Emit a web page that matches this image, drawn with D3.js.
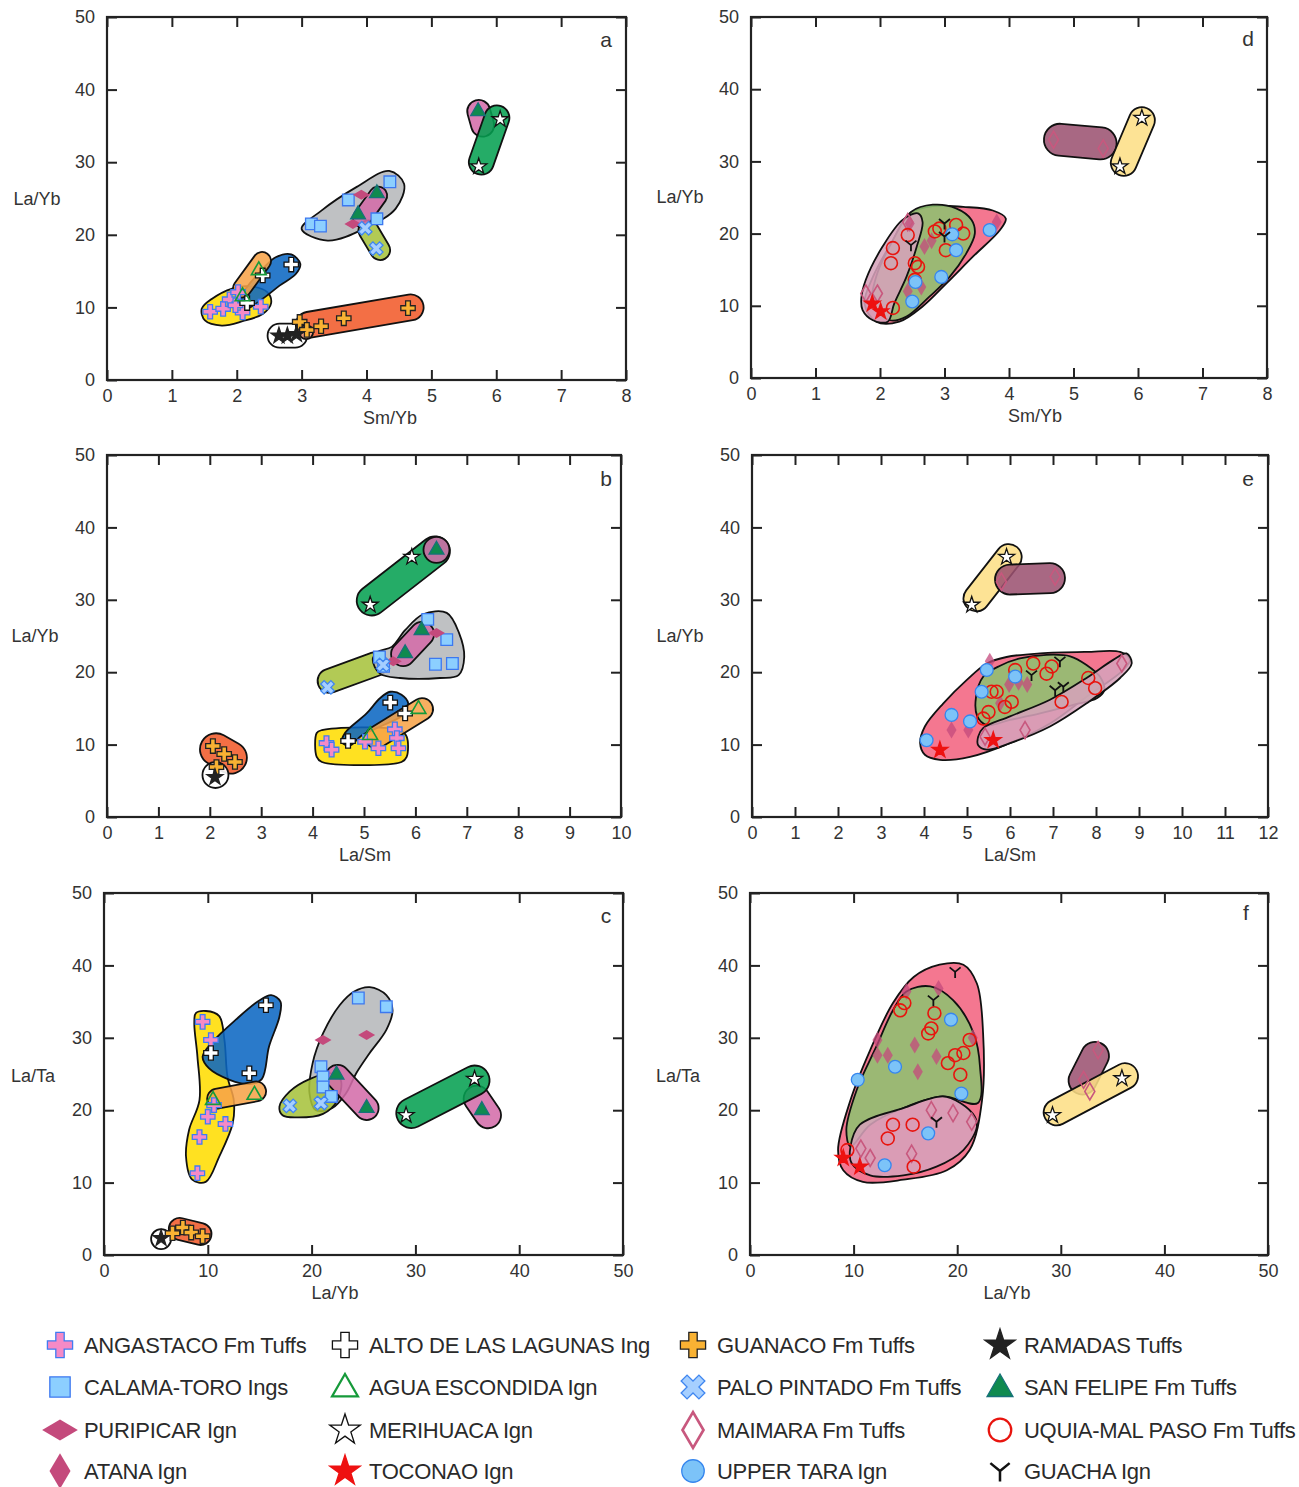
<!DOCTYPE html>
<html>
<head>
<meta charset="utf-8">
<script src="https://cdn.jsdelivr.net/npm/d3@7"></script>
<style>
body { margin: 0; background: #fff; }
svg { display: block; }
text { font-family: "Liberation Sans", Arial, sans-serif; fill: #333; }
</style>
</head>
<body>
<svg id="chart" width="1299" height="1487"></svg>
<script>
// legend (row by row)
var legendKeys = ['AN', 'AL', 'GU', 'RA', 'CT', 'AE', 'PP', 'SF', 'PU', 'ME', 'MA', 'UQ', 'AT', 'TO', 'UT', 'GA'];
var legendLabels = ['ANGASTACO Fm Tuffs', 'ALTO DE LAS LAGUNAS Ing', 'GUANACO Fm Tuffs', 'RAMADAS Tuffs',
  'CALAMA-TORO Ings', 'AGUA ESCONDIDA Ign', 'PALO PINTADO Fm Tuffs', 'SAN FELIPE Fm Tuffs',
  'PURIPICAR Ign', 'MERIHUACA Ign', 'MAIMARA Fm Tuffs', 'UQUIA-MAL PASO Fm Tuffs',
  'ATANA Ign', 'TOCONAO Ign', 'UPPER TARA Ign', 'GUACHA Ign'];

var yTicks = [0, 10, 20, 30, 40, 50];

// fields: [colour, outline vertices] or [colour, [end1, end2], half width] (capsule)
var fieldsA = [
  ['gry', [[3.0,20.8],[3.3,23.3],[3.85,26.6],[4.35,28.8],[4.58,27.0],[4.45,23.6],[4.0,21.0],[3.4,19.2]]],
  ['ygr', [[4.03,20.6],[4.21,17.9]], 10],
  ['pnk', [[3.93,22.3],[4.18,25.4]], 9],
  ['pnk', [[5.73,37.0],[5.79,35.1]], 11.5],
  ['grn', [[6.01,36.1],[5.77,30.0]], 12.5],
  ['yel', [[1.46,9.8],[1.62,11.2],[1.93,12.6],[2.19,12.9],[2.47,12.1],[2.53,10.6],[2.40,9.1],[2.09,8.1],[1.77,7.5],[1.51,8.2]]],
  ['blu', [[2.84,17.3],[2.98,16.0],[2.91,14.6],[2.66,13.0],[2.40,11.2],[2.14,9.8],[2.01,10.7],[2.14,12.6],[2.40,15.3],[2.60,16.9]]],
  ['ora', [[2.39,16.4],[2.08,12.6]], 9],
  ['wht', [[2.66,6.1],[2.90,6.1]], 12],
  ['red', [[3.11,7.6],[4.68,10.0]], 13],
  ['sal', [[3.07,6.6],[3.07,6.6]], 7]
];
var pointsA = [
  ['AN',1.59,9.4],['AN',1.79,9.8],['AN',1.89,11.1],['AN',2.09,9.3],['AN',2.02,12.1],['AN',2.37,10.1],['AN',1.98,10.3],
  ['AL',2.84,15.9],['AL',2.40,14.4],['AL',2.16,10.6],
  ['AE',2.34,15.1],['AE',2.09,11.5],
  ['GU',2.97,8.0],['GU',3.08,6.9],['GU',3.30,7.4],['GU',3.65,8.5],['GU',4.64,9.9],
  ['RA',2.65,6.1],['RA',2.78,6.1],['RA',2.92,6.3],
  ['CT',4.36,27.3],['CT',3.72,24.8],['CT',3.15,21.5],['CT',3.29,21.2],['CT',4.16,22.2],
  ['PU',3.92,25.5],['PU',3.79,21.5],
  ['SF',4.16,25.7],['SF',3.87,22.8],['SF',5.72,37.0],
  ['PP',4.15,18.1],['PP',3.98,20.9],
  ['ME',6.06,35.9],['ME',5.73,29.4]
];

var fieldsD = [
  ['rose', [[1.76,10.3],[1.89,14.0],[2.20,19.1],[2.46,22.8],[2.82,23.8],[3.29,23.7],[3.75,23.2],[3.95,22.1],[3.86,20.5],[3.44,16.8],[3.03,13.1],[2.66,9.9],[2.30,7.8],[1.94,7.8]]],
  ['lgr', [[2.15,8.0],[1.89,10.3],[1.94,14.0],[2.20,19.1],[2.48,23.0],[2.82,24.0],[3.18,23.5],[3.42,21.9],[3.47,20.0],[3.34,17.3],[3.08,14.0],[2.77,11.3],[2.41,8.5]]],
  ['mau', [[1.71,11.0],[1.78,13.6],[2.04,18.2],[2.35,21.9],[2.59,22.8],[2.66,21.6],[2.57,18.2],[2.41,14.0],[2.22,10.3],[2.12,7.8],[1.89,8.0],[1.73,9.4]]],
  ['dmau', [[4.79,33.0],[5.42,32.5]], 16],
  ['lyel', [[6.06,35.7],[5.78,29.8]], 13]
];
var pointsD = [
  ['AT',2.69,18.2],['AT',2.80,19.0],['AT',2.64,12.6],['AT',2.43,12.0],['AT',3.81,21.6],['AT',2.46,21.4],
  ['MA',1.78,11.7],['MA',1.96,11.7],['MA',2.43,21.6],['MA',4.69,33.0],['MA',5.46,31.8],
  ['UQ',2.20,18.0],['UQ',2.17,15.9],['UQ',2.43,19.8],['UQ',2.54,15.9],['UQ',2.59,15.4],['UQ',2.54,13.6],
  ['UQ',2.85,20.3],['UQ',2.92,20.7],['UQ',3.18,21.2],['UQ',3.29,20.0],['UQ',3.02,17.7],['UQ',2.20,9.7],
  ['UT',3.70,20.5],['UT',3.12,19.9],['UT',3.18,17.7],['UT',2.95,14.0],['UT',2.55,13.3],['UT',2.50,10.6],
  ['TO',1.88,10.3],['TO',2.01,9.2],
  ['GA',2.48,18.4],['GA',3.0,21.4],['GA',3.0,19.6],
  ['ME',6.06,36.0],['ME',5.72,29.3]
];

var fieldsB = [
  ['grn', [[5.15,29.9],[6.38,36.7]], 15],
  ['pnk', [[6.41,36.9],[6.41,36.9]], 13],
  ['ygr', [[4.33,18.8],[5.22,21.1]], 12],
  ['gry', [[5.17,21.7],[5.26,22.8],[5.54,23.5],[5.80,25.8],[6.15,28.0],[6.61,28.2],[6.85,25.4],[6.95,22.1],[6.84,19.6],[6.48,19.2],[5.70,19.2],[5.31,19.8]]],
  ['pnk', [[5.76,22.5],[6.13,25.3]], 12],
  ['yel', [[4.08,11.6],[4.18,12.0],[5.70,12.0],[5.83,11.1],[5.83,8.3],[5.73,7.6],[4.18,7.6],[4.08,8.3]]],
  ['blu', [[5.51,17.3],[5.73,16.9],[5.86,15.7],[5.76,14.1],[5.38,12.7],[4.96,11.3],[4.73,9.9],[4.57,10.3],[4.63,11.6],[5.05,14.3],[5.31,16.4]]],
  ['ora', [[5.24,11.0],[6.13,14.9]], 11],
  ['red', [[2.12,9.35],[2.41,8.2]], 16],
  ['wht', [[2.11,5.8],[2.11,5.8]], 13]
];
var pointsB = [
  ['AN',4.27,10.2],['AN',4.37,9.3],['AN',5.02,10.4],['AN',5.28,9.5],['AN',5.60,12.1],['AN',5.64,10.9],['AN',5.67,9.5],
  ['AL',5.51,15.8],['AL',5.80,14.3],['AL',4.69,10.5],
  ['AE',6.06,14.9],['AE',5.12,11.3],
  ['CT',6.24,27.3],['CT',6.61,24.5],['CT',6.39,21.1],['CT',6.72,21.2],['CT',5.30,22.1],['CT',5.38,20.8],
  ['PU',6.41,25.4],['PU',5.57,21.5],
  ['SF',6.12,25.8],['SF',5.80,22.6],['SF',6.41,36.9],
  ['PP',4.29,17.9],['PP',5.37,21.0],
  ['ME',5.12,29.3],['ME',5.93,35.9],
  ['GU',2.06,9.8],['GU',2.28,8.7],['GU',2.49,7.6],['GU',2.13,6.9],
  ['RA',2.10,5.5]
];

var fieldsE = [
  ['rose', [[3.91,10.2],[4.02,12.5],[4.45,15.7],[4.99,18.9],[5.46,21.2],[5.92,22.1],[6.70,22.6],[7.78,22.8],[8.56,22.8],[8.79,21.7],[8.63,20.3],[7.78,16.6],[6.93,12.9],[6.0,10.2],[5.07,8.3],[4.37,7.9],[4.02,8.6]]],
  ['lgr', [[5.21,16.6],[5.38,19.4],[5.77,20.9],[6.23,21.9],[6.85,22.4],[7.40,22.2],[7.78,21.0],[8.09,19.4],[8.19,17.5],[8.02,16.4],[7.47,15.5],[6.70,14.3],[6.0,13.4],[5.46,12.7],[5.24,13.9]]],
  ['mau', [[5.26,11.1],[5.38,12.3],[6.0,13.9],[6.93,16.2],[7.78,19.2],[8.40,21.7],[8.71,22.6],[8.83,21.2],[8.56,19.2],[7.78,15.7],[6.93,12.5],[6.0,10.2],[5.46,9.3],[5.26,9.9]]],
  ['lyel', [[5.22,30.2],[5.97,35.9]], 13],
  ['dmau', [[6.0,32.8],[6.93,33.0]], 15]
];
var pointsE = [
  ['AT',5.53,21.5],['AT',5.98,18.3],['AT',6.20,18.6],['AT',6.40,18.3],['AT',5.77,15.7],['AT',4.64,12.0],['AT',5.03,12.0],
  ['MA',7.05,33.2],['MA',5.80,32.5],['MA',5.42,11.1],['MA',6.35,12.0],['MA',8.60,21.2],
  ['UQ',6.12,20.3],['UQ',6.54,21.2],['UQ',6.97,20.8],['UQ',6.85,19.8],['UQ',5.57,17.3],['UQ',5.69,17.3],['UQ',6.04,15.9],
  ['UQ',5.88,15.2],['UQ',5.50,14.5],['UQ',5.38,13.6],['UQ',7.20,15.9],['UQ',7.82,19.2],['UQ',7.98,17.8],
  ['UT',5.46,20.3],['UT',6.12,19.4],['UT',5.34,17.3],['UT',4.64,14.1],['UT',5.07,13.2],['UT',4.06,10.6],
  ['GA',7.16,21.5],['GA',6.50,19.6],['GA',7.05,17.5],['GA',7.24,18.0],
  ['TO',4.37,9.25],['TO',5.61,10.6],
  ['ME',5.11,29.3],['ME',5.92,35.9]
];

var fieldsC = [
  ['yel', [[8.85,33.4],[9.82,33.7],[11.1,33.0],[11.6,29.7],[11.9,24.6],[12.5,21.4],[12.4,18.2],[11.1,13.6],[9.8,10.1],[8.5,10.4],[7.9,13.6],[8.2,17.3],[9.2,21.4],[9.0,27.4],[8.7,32.0]]],
  ['blu', [[9.5,27.4],[10.5,29.5],[12.7,32.5],[15.0,35.2],[16.1,35.9],[17.0,35.0],[16.9,32.9],[15.9,28.8],[15.2,24.3],[14.0,23.6],[12.1,24.2],[10.1,25.8]]],
  ['ora', [[10.9,21.6],[14.65,22.6]], 10],
  ['gry', [[25.6,37.0],[27.2,35.9],[27.8,33.8],[27.2,31.1],[25.6,27.9],[24.3,25.1],[23.3,22.3],[22.0,20.3],[20.4,20.0],[19.8,22.3],[20.1,26.5],[21.1,30.6],[22.7,34.5],[24.1,36.4]]],
  ['ygr', [[16.9,20.5],[17.9,22.6],[19.8,24.3],[21.9,25.1],[22.8,24.2],[22.5,21.4],[21.1,19.5],[18.5,19.0],[17.2,19.3]]],
  ['pnk', [[22.5,24.6],[25.3,20.3]], 12],
  ['pnk', [[35.9,21.6],[37.0,19.3]], 13],
  ['grn', [[29.6,19.6],[35.7,24.1]], 15],
  ['red', [[7.3,3.6],[9.3,2.9]], 11],
  ['wht', [[5.5,2.2],[5.5,2.2]], 10]
];
var pointsC = [
  ['AN',9.5,32.2],['AN',10.3,29.7],['AN',10.6,20.7],['AN',10.0,19.1],['AN',11.7,18.1],['AN',9.2,16.3],['AN',9.0,11.3],
  ['AL',15.6,34.5],['AL',10.3,27.9],['AL',14.0,25.1],
  ['AE',14.5,22.1],['AE',10.5,21.4],
  ['GU',6.6,3.0],['GU',7.6,3.8],['GU',8.4,3.1],['GU',9.5,2.6],
  ['RA',5.5,2.3],
  ['CT',24.5,35.5],['CT',27.2,34.3],['CT',20.9,26.0],['CT',21.1,24.6],['CT',21.1,23.2],['CT',21.9,21.9],
  ['PU',21.1,29.7],['PU',25.3,30.4],
  ['SF',22.4,24.9],['SF',25.3,20.3],['SF',36.4,20.0],
  ['PP',17.9,20.6],['PP',20.9,21.0],
  ['ME',29.1,19.3],['ME',35.7,24.3]
];

var fieldsF = [
  ['rose', [[15.8,38.4],[18.3,40.1],[20.6,40.1],[21.9,37.5],[22.5,30.6],[22.4,21.4],[21.2,14.5],[19.0,11.7],[14.8,10.4],[10.9,10.1],[9.0,11.7],[8.5,14.5],[9.7,21.4],[11.6,28.3],[13.8,34.8]]],
  ['lgr', [[15.1,36.4],[17.4,37.1],[19.6,35.2],[21.6,30.6],[22.2,26.0],[22.0,21.0],[18.6,21.9],[14.8,20.3],[11.6,18.0],[9.7,15.0],[9.3,17.3],[10.3,22.8],[12.2,28.8],[13.8,33.8]]],
  ['mau', [[10.6,18.0],[14.8,20.3],[18.6,21.9],[20.3,21.0],[21.7,19.1],[21.9,17.7],[20.6,14.5],[18.0,12.2],[14.8,11.0],[11.6,11.0],[9.8,12.7],[9.7,15.0]]],
  ['dmau', [[32.1,24.1],[33.3,27.5]], 14],
  ['lyel', [[29.6,19.7],[36.2,24.7]], 13]
];
var pointsF = [
  ['AT',15.1,36.4],['AT',18.2,36.8],['AT',12.3,29.7],['AT',12.3,27.6],['AT',13.3,27.6],['AT',15.9,29.0],['AT',18.0,27.4],['AT',16.2,25.3],['AT',21.5,30.0],
  ['MA',17.5,20.0],['MA',19.6,19.6],['MA',21.4,18.4],['MA',10.7,14.7],['MA',11.6,13.4],['MA',15.6,14.0],['MA',33.6,28.3],['MA',32.2,24.2],['MA',32.8,22.6],
  ['UQ',14.9,34.8],['UQ',14.5,33.8],['UQ',17.8,33.4],['UQ',17.5,31.3],['UQ',17.2,30.6],['UQ',21.2,29.7],['UQ',20.6,27.9],['UQ',19.8,27.6],
  ['UQ',19.1,26.5],['UQ',20.3,24.9],['UQ',13.8,18.0],['UQ',15.7,18.0],['UQ',13.3,16.1],['UQ',15.8,12.2],['UQ',9.4,14.5],
  ['UT',19.4,32.5],['UT',14.0,26.0],['UT',10.4,24.2],['UT',20.4,22.3],['UT',17.2,16.8],['UT',13.0,12.4],
  ['TO',9.0,13.4],['TO',10.6,12.2],
  ['GA',19.8,39.1],['GA',17.7,35.2],['GA',18.0,18.4],
  ['ME',29.2,19.3],['ME',35.9,24.4]
];

var fieldFill = {
  yel: '#ffdc00', blu: '#0a66c2', ora: '#f7a348', gry: '#b5b8ba', pnk: '#d36ca9', grn: '#05a050',
  ygr: '#a6c23c', red: '#f15a29', wht: '#ffffff', sal: '#f4a58a',
  rose: '#f2637f', lgr: '#8dc26f', mau: '#d6a2ba', dmau: '#9b5271', lyel: '#fddf85'
};

var panels = [
  {id: 'a', xd: [0, 8], xr: [107, 626], yr: [380, 17], xt: d3.range(0, 9), xl: 'Sm/Yb', yl: 'La/Yb', xlp: [390, 418], ylp: [37, 199], lp: [606, 40], fields: fieldsA, pts: pointsA, fade: false},
  {id: 'd', xd: [0, 8], xr: [751, 1267], yr: [378, 17], xt: d3.range(0, 9), xl: 'Sm/Yb', yl: 'La/Yb', xlp: [1035, 416], ylp: [680, 197], lp: [1248, 39], fields: fieldsD, pts: pointsD, fade: true},
  {id: 'b', xd: [0, 10], xr: [107, 621], yr: [817, 455], xt: d3.range(0, 11), xl: 'La/Sm', yl: 'La/Yb', xlp: [365, 855], ylp: [35, 636], lp: [606, 479], fields: fieldsB, pts: pointsB, fade: false},
  {id: 'e', xd: [0, 12], xr: [752, 1268], yr: [817, 455], xt: d3.range(0, 13), xl: 'La/Sm', yl: 'La/Yb', xlp: [1010, 855], ylp: [680, 636], lp: [1248, 479], fields: fieldsE, pts: pointsE, fade: true},
  {id: 'c', xd: [0, 50], xr: [104, 623], yr: [1255, 893], xt: [0, 10, 20, 30, 40, 50], xl: 'La/Yb', yl: 'La/Ta', xlp: [335, 1293], ylp: [33, 1076], lp: [606, 916], fields: fieldsC, pts: pointsC, fade: false},
  {id: 'f', xd: [0, 50], xr: [750, 1268], yr: [1255, 893], xt: [0, 10, 20, 30, 40, 50], xl: 'La/Yb', yl: 'La/Ta', xlp: [1007, 1293], ylp: [678, 1076], lp: [1246, 913], fields: fieldsF, pts: pointsF, fade: true}
];

// marker looks
var mk = {
  AN: {shape: 'cross', fill: '#f58ac6', stroke: '#3f7cf2'},
  AL: {shape: 'cross', fill: '#ffffff', stroke: '#111'},
  GU: {shape: 'cross', fill: '#f9b233', stroke: '#222'},
  RA: {shape: 'star', fill: '#222', stroke: '#222'},
  CT: {shape: 'square', fill: '#8ccfff', stroke: '#3c78f0'},
  AE: {shape: 'tri', fill: 'none', stroke: '#169a3a'},
  PP: {shape: 'x', fill: '#a6cfff', stroke: '#3f86f0'},
  SF: {shape: 'tri', fill: '#0f8a4f', stroke: '#17717a'},
  PU: {shape: 'hdia', fill: '#c44a7c', stroke: 'none'},
  ME: {shape: 'star', fill: '#ffffff', stroke: '#111'},
  MA: {shape: 'vdia', fill: 'none', stroke: '#c8587e'},
  UQ: {shape: 'circle', fill: 'none', stroke: '#e8140e'},
  AT: {shape: 'vdia', fill: '#c44a7c', stroke: 'none'},
  TO: {shape: 'star', fill: '#ee1111', stroke: '#ee1111'},
  UT: {shape: 'circle', fill: '#7cc3f8', stroke: '#3686ee'},
  GA: {shape: 'y', fill: 'none', stroke: '#111'}
};

function symPath(shape, s) {
  // s: 1 in the plots, bigger in the legend
  if (shape === 'cross' || shape === 'x') return d3.symbol(d3.symbolCross, 115 * s * s)();
  if (shape === 'star') return d3.symbol(d3.symbolStar, 80 * s * s)();
  if (shape === 'square') return d3.symbol(d3.symbolSquare, 135 * s * s)();
  if (shape === 'tri') return d3.symbol(d3.symbolTriangle, 95 * s * s)();
  if (shape === 'circle') return d3.symbol(d3.symbolCircle, 130 * s * s)();
  var p = d3.path();
  if (shape === 'hdia') {
    p.moveTo(-8.5 * s, 0); p.lineTo(0, -5 * s); p.lineTo(8.5 * s, 0); p.lineTo(0, 5 * s); p.closePath();
  } else if (shape === 'vdia') {
    p.moveTo(0, -8.5 * s); p.lineTo(5 * s, 0); p.lineTo(0, 8.5 * s); p.lineTo(-5 * s, 0); p.closePath();
  } else if (shape === 'y') {
    p.moveTo(0, 0); p.lineTo(0, 6 * s);
    p.moveTo(0, 0); p.lineTo(-5.5 * s, -4.5 * s);
    p.moveTo(0, 0); p.lineTo(5.5 * s, -4.5 * s);
  }
  return p.toString();
}

function drawMarker(g, k, x, y, s, faded) {
  var m = mk[k];
  var el = g.append('path')
    .attr('d', symPath(m.shape, s))
    .attr('transform', 'translate(' + x + ',' + y + ')' + (m.shape === 'x' ? ' rotate(45)' : ''))
    .attr('fill', m.fill)
    .attr('stroke', m.stroke)
    .attr('stroke-width', m.shape === 'y' ? 1.8 * Math.max(1, s * 0.8) : (m.fill === 'none' ? 1.6 * Math.max(1, s * 0.8) : 1.3));
  if (faded) el.attr('opacity', 0.75);
}

var svg = d3.select('#chart');
var blobLine = d3.line().curve(d3.curveCatmullRomClosed.alpha(0.5));

panels.forEach(function (p) {
  var x = d3.scaleLinear().domain(p.xd).range(p.xr);
  var y = d3.scaleLinear().domain([0, 50]).range(p.yr);
  var g = svg.append('g').attr('class', 'panel-' + p.id);

  // fields
  var gf = g.append('g');
  p.fields.forEach(function (f) {
    var path;
    if (f.length === 3) {
      var a = [x(f[1][0][0]), y(f[1][0][1])], b = [x(f[1][1][0]), y(f[1][1][1])], w = f[2];
      var ang = Math.atan2(b[1] - a[1], b[0] - a[0]);
      var nx = -Math.sin(ang) * w, ny = Math.cos(ang) * w;
      path = 'M' + (a[0] + nx) + ',' + (a[1] + ny) + 'L' + (b[0] + nx) + ',' + (b[1] + ny) +
        'A' + w + ',' + w + ' 0 0 0 ' + (b[0] - nx) + ',' + (b[1] - ny) +
        'L' + (a[0] - nx) + ',' + (a[1] - ny) +
        'A' + w + ',' + w + ' 0 0 0 ' + (a[0] + nx) + ',' + (a[1] + ny) + 'Z';
    } else {
      path = blobLine(f[1].map(function (v) { return [x(v[0]), y(v[1])]; }));
    }
    gf.append('path')
      .attr('d', path)
      .attr('fill', fieldFill[f[0]])
      .attr('fill-opacity', f[0] === 'wht' ? 0.9 : 0.87)
      .attr('stroke', '#111')
      .attr('stroke-width', 1.8);
  });

  // points
  var gp = g.append('g');
  p.pts.forEach(function (d) {
    drawMarker(gp, d[0], x(d[1]), y(d[2]), 1, p.fade && d[0] === 'AT');
  });

  // axes: ticks point inward on all four sides
  var ax = g.append('g').attr('class', 'axes');
  ax.append('g').attr('transform', 'translate(0,' + p.yr[0] + ')')
    .call(d3.axisBottom(x).tickValues(p.xt).tickSize(-10).tickPadding(9));
  ax.append('g').attr('transform', 'translate(0,' + p.yr[1] + ')')
    .call(d3.axisTop(x).tickValues(p.xt).tickSize(-10).tickFormat(''));
  ax.append('g').attr('transform', 'translate(' + p.xr[0] + ',0)')
    .call(d3.axisLeft(y).tickValues(yTicks).tickSize(-10).tickPadding(12));
  ax.append('g').attr('transform', 'translate(' + p.xr[1] + ',0)')
    .call(d3.axisRight(y).tickValues(yTicks).tickSize(-10).tickFormat(''));
  ax.selectAll('.domain').remove();
  ax.selectAll('.tick line').attr('stroke', '#222').attr('stroke-width', 2);
  ax.selectAll('.tick text').attr('fill', '#333').style('font-size', '18px')
    .style('font-family', '"Liberation Sans", Arial, sans-serif');

  g.append('rect')
    .attr('x', p.xr[0]).attr('y', p.yr[1])
    .attr('width', p.xr[1] - p.xr[0]).attr('height', p.yr[0] - p.yr[1])
    .attr('fill', 'none').attr('stroke', '#222').attr('stroke-width', 2.2);

  g.append('text').attr('x', p.xlp[0]).attr('y', p.xlp[1]).attr('dy', '0.35em')
    .attr('text-anchor', 'middle').style('font-size', '18px').text(p.xl);
  g.append('text').attr('x', p.ylp[0]).attr('y', p.ylp[1]).attr('dy', '0.35em')
    .attr('text-anchor', 'middle').style('font-size', '18px').text(p.yl);
  g.append('text').attr('x', p.lp[0]).attr('y', p.lp[1]).attr('dy', '0.35em')
    .attr('text-anchor', 'middle').style('font-size', '21px').text(p.id);
});

// legend
var colX = [60, 345, 693, 1000];
var rowY = [1345, 1387, 1430, 1471];
var lg = svg.append('g').attr('class', 'legend');
legendKeys.forEach(function (k, i) {
  var cx = colX[i % 4], cy = rowY[Math.floor(i / 4)];
  var s = mk[k].shape === 'hdia' || mk[k].shape === 'vdia' ? 2.1 : (mk[k].shape === 'star' ? 1.9 : 1.75);
  drawMarker(lg, k, cx, cy + (mk[k].shape === 'tri' ? 2 : 0), s, false);
  lg.append('text').attr('x', cx + 24).attr('y', cy).attr('dy', '0.36em')
    .style('font-size', '22px').style('letter-spacing', '-0.3px').style('fill', '#2a2a2a').text(legendLabels[i]);
});
</script>
</body>
</html>
